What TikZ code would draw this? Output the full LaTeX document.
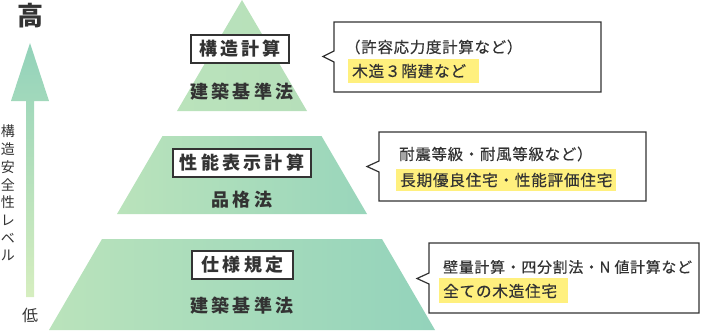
\documentclass[tikz,border=0pt]{standalone}
\usepackage{fontspec}
\setmainfont{Noto Sans CJK JP}
\newfontfamily\jpwide[LetterSpace=18]{Noto Sans CJK JP}
\newfontfamily\jpsp[LetterSpace=5,FakeBold=0.4]{Noto Sans CJK JP}
\definecolor{ink}{HTML}{333333}
\definecolor{hl}{HTML}{FFF07E}
\definecolor{gA}{HTML}{BAE3BB}
\definecolor{gB}{HTML}{93D3BB}
\definecolor{gT}{HTML}{B6DFBA}
\definecolor{arrTop}{HTML}{92D2BA}
\definecolor{arrBot}{HTML}{D6EEBF}
\tikzset{
  lvlbox/.style={draw=ink, line width=2pt, fill=white, text=ink, inner sep=0pt,
    minimum height=28pt, font=\fontsize{18}{18}\selectfont\jpwide\bfseries},
  lvlsub/.style={text=ink, inner sep=0pt, font=\fontsize{18}{18}\selectfont\jpwide\bfseries},
  callout/.style={draw=ink, line width=1.2pt, fill=white},
  cline/.style={text=ink, inner sep=0pt, anchor=west, font=\fontsize{15.4}{15.4}\selectfont\jpsp},
  hline/.style={text=ink, inner sep=0pt, anchor=west, font=\fontsize{15.6}{15.6}\selectfont\jpsp},
  hlrect/.style={fill=hl, draw=none}
}
\begin{document}
\begin{tikzpicture}[x=1pt,y=-1pt]
\useasboundingbox (0,0) rectangle (704,330);
% pyramid
\shade[left color=gA, right color=gT] (242,0) -- (307,111) -- (177,111) -- cycle;
\shade[left color=gA, right color=gB!85!gA] (162.5,136) -- (321.5,136) -- (367,214) -- (117,214) -- cycle;
\shade[left color=gA, right color=gB] (102,239) -- (382,239) -- (435,330) -- (49,330) -- cycle;
% labels
\node[lvlbox, minimum width=98pt] (k1) at (240,49) {構造計算};
\node[lvlsub] (s1) at (242,92) {建築基準法};
\node[lvlbox, minimum width=138pt] (k2) at (242,162.5) {性能表示計算};
\node[lvlsub] (s2) at (242,200) {品格法};
\node[lvlbox, minimum width=101pt] (k3) at (242.5,265) {仕様規定};
\node[lvlsub] (s3) at (242,306) {建築基準法};
% callouts
\draw[callout] (334,22) -- (601,22) -- (601,92) -- (334,92) -- (334,62) -- (323,56.5) -- (334,51) -- cycle;
\node[cline] (c1a) at (345,47) {（許容応力度計算など）};
\fill[hlrect] (348,59) rectangle (479,83);
\node[hline] (c1b) at (352,71) {木造３階建など};
\draw[callout] (379,132) -- (646,132) -- (646,201) -- (379,201) -- (379,172) -- (367,166.5) -- (379,161) -- cycle;
\node[cline] (c2a) at (399,154) {耐震等級・耐風等級など）};
\fill[hlrect] (396,169) rectangle (616,191);
\node[hline] (c2b) at (400,180) {長期優良住宅・性能評価住宅};
\draw[callout] (429,243) -- (699,243) -- (699,313) -- (429,313) -- (429,284) -- (417,278.5) -- (429,273) -- cycle;
\node[cline, font=\fontsize{14.9}{14.9}\selectfont\jpsp] (c3a) at (443,267) {壁量計算・四分割法・N 値計算など};
\fill[hlrect] (439,278) rectangle (568,303);
\node[hline] (c3b) at (443,291) {全ての木造住宅};
% left scale
\shade[top color=arrTop, bottom color=arrBot] (30,43) -- (49,101) -- (34,101) -- (34,297) -- (26,297) -- (26,101) -- (11,101) -- cycle;
\node[text=ink, inner sep=0pt, font=\fontsize{26}{26}\selectfont\bfseries] (hi) at (30,16) {高};
\node[text=ink, inner sep=0pt, font=\fontsize{16}{16}\selectfont] (lo) at (30,315) {低};
\node[text=ink, inner sep=0pt, align=center, anchor=north, font=\fontsize{14}{17.7}\selectfont] (lv) at (8,125)
  {構\\造\\安\\全\\性\\レ\\ベ\\ル};
\end{tikzpicture}
\end{document}
